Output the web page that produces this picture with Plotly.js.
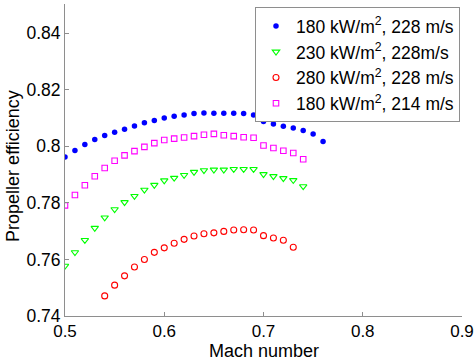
<!DOCTYPE html>
<html>
<head>
<meta charset="utf-8">
<script src="https://cdn.plot.ly/plotly-3.0.1.min.js"></script>
<style>
  html, body { margin: 0; padding: 0; background: #fff; }
  #chart { width: 476px; height: 360px; }
</style>
</head>
<body>
<div id="chart"></div>
<script>
// Propeller efficiency versus Mach number for four heat-flux / tip-speed cases
const mach_228_180 = [0.50,0.51,0.52,0.53,0.54,0.55,0.56,0.57,0.58,0.59,0.60,0.61,0.62,0.63,0.64,0.65,0.66,0.67,0.68,0.69,0.70,0.71,0.72,0.73,0.74,0.75,0.76];
const eff_228_180 = [0.7962,0.7985,0.8006,0.8024,0.8038,0.8050,0.8060,0.8072,0.8083,0.8091,0.8100,0.8106,0.8111,0.8116,0.8118,0.8117,0.8117,0.8117,0.8116,0.8111,0.8088,0.8079,0.8071,0.8065,0.8056,0.8043,0.8017];

const mach_228_230 = [0.50,0.51,0.52,0.53,0.54,0.55,0.56,0.57,0.58,0.59,0.60,0.61,0.62,0.63,0.64,0.65,0.66,0.67,0.68,0.69,0.70,0.71,0.72,0.73,0.74];
const eff_228_230 = [0.7577,0.7625,0.7668,0.7711,0.7748,0.7777,0.7802,0.7824,0.7846,0.7863,0.7879,0.7888,0.7898,0.7909,0.7915,0.7917,0.7917,0.7919,0.7919,0.7919,0.7901,0.7894,0.7887,0.7880,0.7858];

const mach_228_280 = [0.54,0.55,0.56,0.57,0.58,0.59,0.60,0.61,0.62,0.63,0.64,0.65,0.66,0.67,0.68,0.69,0.70,0.71,0.72,0.73];
const eff_228_280 = [0.7471,0.7509,0.7542,0.7573,0.7600,0.7625,0.7641,0.7657,0.7671,0.7683,0.7691,0.7694,0.7699,0.7704,0.7705,0.7704,0.7684,0.7676,0.7668,0.7643];

const mach_214_180 = [0.50,0.51,0.52,0.53,0.54,0.55,0.56,0.57,0.58,0.59,0.60,0.61,0.62,0.63,0.64,0.65,0.66,0.67,0.68,0.69,0.70,0.71,0.72,0.73,0.74];
const eff_214_180 = [0.7791,0.7828,0.7862,0.7894,0.7923,0.7949,0.7968,0.7983,0.7998,0.8011,0.8022,0.8027,0.8031,0.8036,0.8041,0.8044,0.8039,0.8036,0.8032,0.8030,0.8003,0.7994,0.7984,0.7976,0.7954];

const seriesNames = [
  '180 kW/m<sup>2</sup>, 228 m/s',
  '230 kW/m<sup>2</sup>, 228m/s',
  '280 kW/m<sup>2</sup>, 228 m/s',
  '180 kW/m<sup>2</sup>, 214 m/s'
];
const xTitle = 'Mach number';
const yTitle = 'Propeller efficiency';
const xTicks = [0.5, 0.6, 0.7, 0.8, 0.9];
const yTicks = [0.74, 0.76, 0.78, 0.80, 0.82, 0.84];
const yTickText = ['0.74', '0.76', '0.78', '0.8', '0.82', '0.84'];

const FONT = 'Liberation Sans, Arial, sans-serif';
const FONT_SIZE = 17.5;
const TICK_SIZE = 17;
const TITLE_SIZE = 18;
const AXIS_GREY = '#8e8e8e';

const traces = [
  {
    x: mach_228_180, y: eff_228_180, name: seriesNames[0],
    type: 'scatter', mode: 'markers',
    marker: { symbol: 'circle', size: 5.5, color: '#0000ff', line: { width: 0 } }
  },
  {
    x: mach_228_230, y: eff_228_230, name: seriesNames[1],
    type: 'scatter', mode: 'markers',
    marker: { symbol: 'triangle-down-open', size: 6.5, color: '#00ff00', line: { width: 1.1 } }
  },
  {
    x: mach_228_280, y: eff_228_280, name: seriesNames[2],
    type: 'scatter', mode: 'markers',
    marker: { symbol: 'circle-open', size: 6, color: '#ff0000', line: { width: 1.1 } }
  },
  {
    x: mach_214_180, y: eff_214_180, name: seriesNames[3],
    type: 'scatter', mode: 'markers',
    marker: { symbol: 'square-open', size: 5.5, color: '#ff00ff', line: { width: 1.1 } }
  }
];

const layout = {
  width: 476, height: 360,
  margin: { l: 65, r: 14, t: 4, b: 44, pad: 0 },
  paper_bgcolor: '#ffffff', plot_bgcolor: '#ffffff',
  font: { family: FONT, size: FONT_SIZE, color: '#000000' },
  showlegend: true,
  legend: {
    x: 0.4786, y: 0.99, xanchor: 'left', yanchor: 'top',
    bgcolor: '#ffffff', bordercolor: AXIS_GREY, borderwidth: 1,
    itemwidth: 30,
    font: { family: FONT, size: FONT_SIZE, color: '#000000' }
  },
  xaxis: {
    range: [0.5, 0.9], tickvals: xTicks, ticktext: xTicks.map(v => v.toFixed(1)),
    tickfont: { family: FONT, size: TICK_SIZE, color: '#000000' },
    showgrid: false, zeroline: false, showline: true, linecolor: AXIS_GREY, linewidth: 1,
    ticks: 'inside', ticklen: 4, tickcolor: AXIS_GREY, mirror: false
  },
  yaxis: {
    range: [0.74, 0.8503], tickvals: yTicks, ticktext: yTickText,
    tickfont: { family: FONT, size: FONT_SIZE, color: '#000000' },
    showgrid: false, zeroline: false, showline: true, linecolor: AXIS_GREY, linewidth: 1,
    ticks: 'inside', ticklen: 4, tickcolor: AXIS_GREY, mirror: false
  },
  // axis titles, placed as paper-anchored labels
  annotations: [
    {
      text: xTitle, xref: 'paper', yref: 'paper', x: 0.5, y: -0.111,
      xanchor: 'center', yanchor: 'middle', showarrow: false,
      font: { family: FONT, size: TITLE_SIZE, color: '#000000' }
    },
    {
      text: yTitle, xref: 'paper', yref: 'paper', x: -0.131, y: 0.481,
      xanchor: 'center', yanchor: 'middle', showarrow: false, textangle: -90,
      font: { family: FONT, size: TITLE_SIZE, color: '#000000' }
    }
  ]
};

Plotly.newPlot('chart', traces, layout, { staticPlot: true, displayModeBar: false });
</script>
</body>
</html>
